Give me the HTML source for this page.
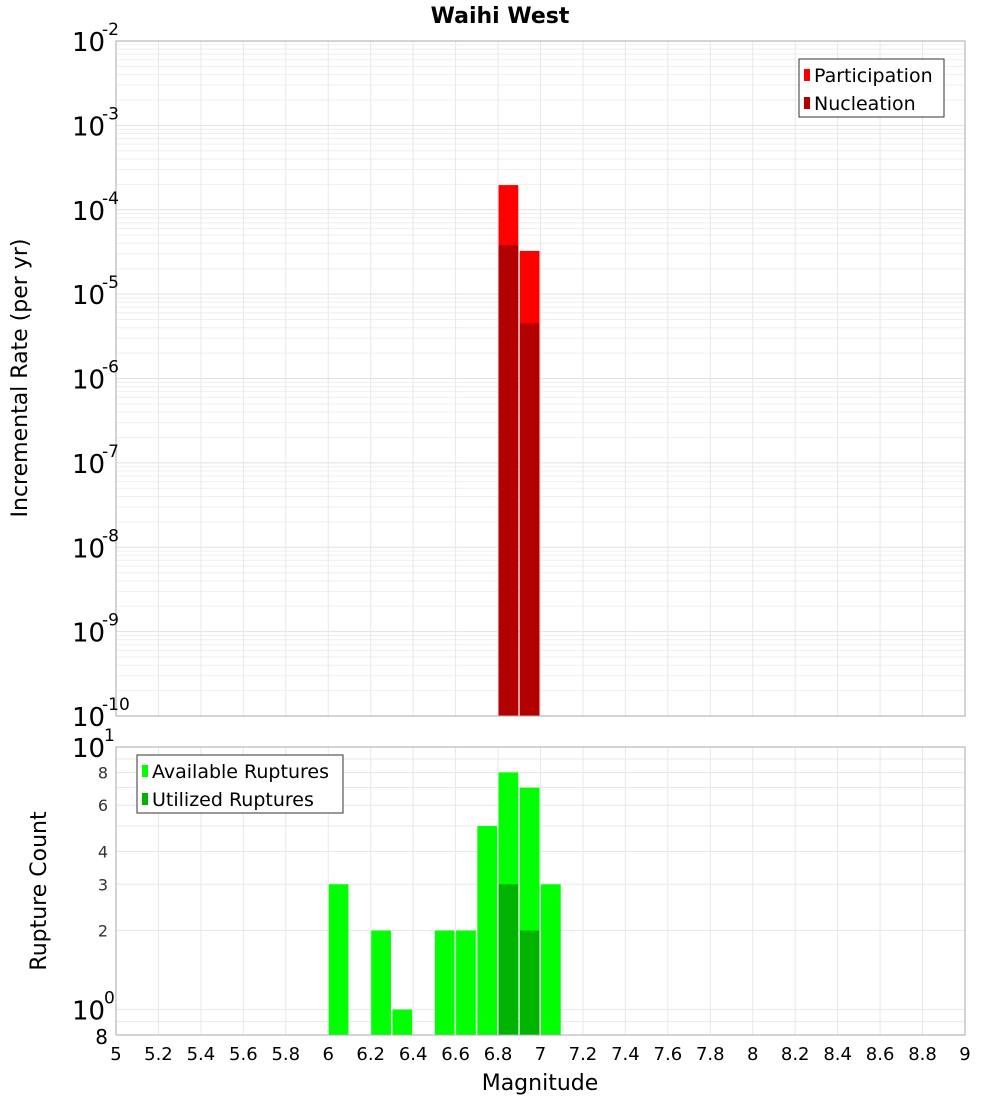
<!DOCTYPE html>
<html><head><meta charset="utf-8"><style>
body{margin:0;background:#fff;font-family:"DejaVu Sans","Liberation Sans",sans-serif}
svg text{font-family:"DejaVu Sans","Liberation Sans",sans-serif}
</style></head><body>
<svg id="c" width="1000" height="1100" xmlns="http://www.w3.org/2000/svg">
<text x="500" y="23" text-anchor="middle" font-size="22" font-weight="bold">Waihi West</text>
<g id="top"></g>
<g id="bot"></g>
<text transform="translate(27,378) rotate(-90)" text-anchor="middle" font-size="22">Incremental Rate (per yr)</text>
<text transform="translate(46,891) rotate(-90)" text-anchor="middle" font-size="22">Rupture Count</text>
<text x="540" y="1090" text-anchor="middle" font-size="22">Magnitude</text>
</svg>
<script>
const bins=[6.85,6.95];
const participation=[1.96e-4,3.25e-5];
const nucleation=[3.8e-5,4.5e-6];
const countBins=[6.05,6.25,6.35,6.55,6.65,6.75,6.85,6.95,7.05];
const available=[3,2,1,2,2,5,8,7,3];
const utilBins=[6.85,6.95];
const utilized=[3,2];
const xTicks=[5,5.2,5.4,5.6,5.8,6,6.2,6.4,6.6,6.8,7,7.2,7.4,7.6,7.8,8,8.2,8.4,8.6,8.8,9];
const topExps=[-2,-3,-4,-5,-6,-7,-8,-9,-10];
const botTicks=[8,6,4,3,2];

const NS="http://www.w3.org/2000/svg";
const L=116,R=965;
const x=m=>L+(m-5)/4*(R-L);
const T0=41,T1=716;
const yt=v=>T0+(-2-Math.log10(v))/8*(T1-T0);
const B0=747,B1=1035;
const lo=Math.log10(0.8),hi=1;
const yb=v=>B0+(hi-Math.log10(v))/(hi-lo)*(B1-B0);
function el(p,t,a,txt){const e=document.createElementNS(NS,t);for(const k in a)e.setAttribute(k,a[k]);if(txt!=null)e.textContent=txt;p.appendChild(e);return e;}
const gTop=document.getElementById('top'),gBot=document.getElementById('bot');

for(let d=-10;d<-2;d++)for(let k=1;k<10;k++){const yy=yt(k*Math.pow(10,d));const g=el(gTop,'line',{x1:L,x2:R,y1:yy,y2:yy,stroke:k==1?'#e2e2e2':'#efefef','stroke-width':1});}
xTicks.forEach(t=>{const g=el(gTop,'line',{x1:x(t),x2:x(t),y1:T0,y2:T1,stroke:'#e8e8e8'});
const g2=el(gBot,'line',{x1:x(t),x2:x(t),y1:B0,y2:B1,stroke:'#e8e8e8'});});
for(let v=1;v<=10;v++){const yy=yb(v);const g=el(gBot,'line',{x1:L,x2:R,y1:yy,y2:yy,stroke:'#e8e8e8'});}
{const yy=yb(0.9);const g=el(gBot,'line',{x1:L,x2:R,y1:yy,y2:yy,stroke:'#e8e8e8'});}

const bw=(R-L)/40;
bins.forEach((m,i)=>{
 let r=el(gTop,'rect',{x:x(m)-bw/2+0.5,y:yt(participation[i]),width:bw-1.5,height:T1-yt(participation[i]),fill:'#ff0000'});
 
 r=el(gTop,'rect',{x:x(m)-bw/2+0.5,y:yt(nucleation[i]),width:bw-1.5,height:T1-yt(nucleation[i]),fill:'#b30000'});
 
});
countBins.forEach((m,i)=>{
 const r=el(gBot,'rect',{x:x(m)-bw/2+0.5,y:yb(available[i]),width:bw-1.5,height:B1-yb(available[i]),fill:'#00ff00'});
 
});
utilBins.forEach((m,i)=>{
 const r=el(gBot,'rect',{x:x(m)-bw/2+0.5,y:yb(utilized[i]),width:bw-1.5,height:B1-yb(utilized[i]),fill:'#00b300'});
 
});
let f=el(gTop,'rect',{x:L,y:T0,width:R-L,height:T1-T0,fill:'none',stroke:'#aaa'});
f=el(gBot,'rect',{x:L,y:B0,width:R-L,height:B1-B0,fill:'none',stroke:'#aaa'});

topExps.forEach(e=>{const yy=yt(Math.pow(10,e));
 const t=el(gTop,'text',{x:72,y:yy+10,'font-size':26},'10');
 const s=el(gTop,'text',{x:102,y:yy-6,'font-size':17},String(e));});
[[10,'1'],[1,'0']].forEach(([v,e])=>{const yy=yb(v);
 const t=el(gBot,'text',{x:72,y:yy+10,'font-size':26},'10');
 const s=el(gBot,'text',{x:104,y:yy-6,'font-size':17},e);});
botTicks.forEach(v=>{const t=el(gBot,'text',{x:108,y:yb(v)+6,'font-size':16,'text-anchor':'end',fill:'#333'},String(v));});
{const t=el(gBot,'text',{x:108,y:B1+9,'font-size':20,'text-anchor':'end'},'8');}
xTicks.forEach(v=>{const t=el(gBot,'text',{x:x(v),y:1060,'font-size':18,'text-anchor':'middle'},String(v));});

function legend(p,x0,y0,w,items){const g=el(p,'g',{});
 el(g,'rect',{x:x0,y:y0,width:w,height:58,fill:'#fff',stroke:'#333'});
 items.forEach(([c,l],i)=>{const yy=y0+16+i*28;
  const s=el(g,'rect',{x:x0+5,y:yy-6,width:6,height:12,fill:c});
  const t=el(g,'text',{x:x0+15,y:yy+7,'font-size':19},l);});}
legend(gTop,799,59,145,[['#ff0000','Participation'],['#b30000','Nucleation']]);
legend(gBot,137,755,206,[['#00ff00','Available Ruptures'],['#00b300','Utilized Ruptures']]);
</script>
</body></html>
